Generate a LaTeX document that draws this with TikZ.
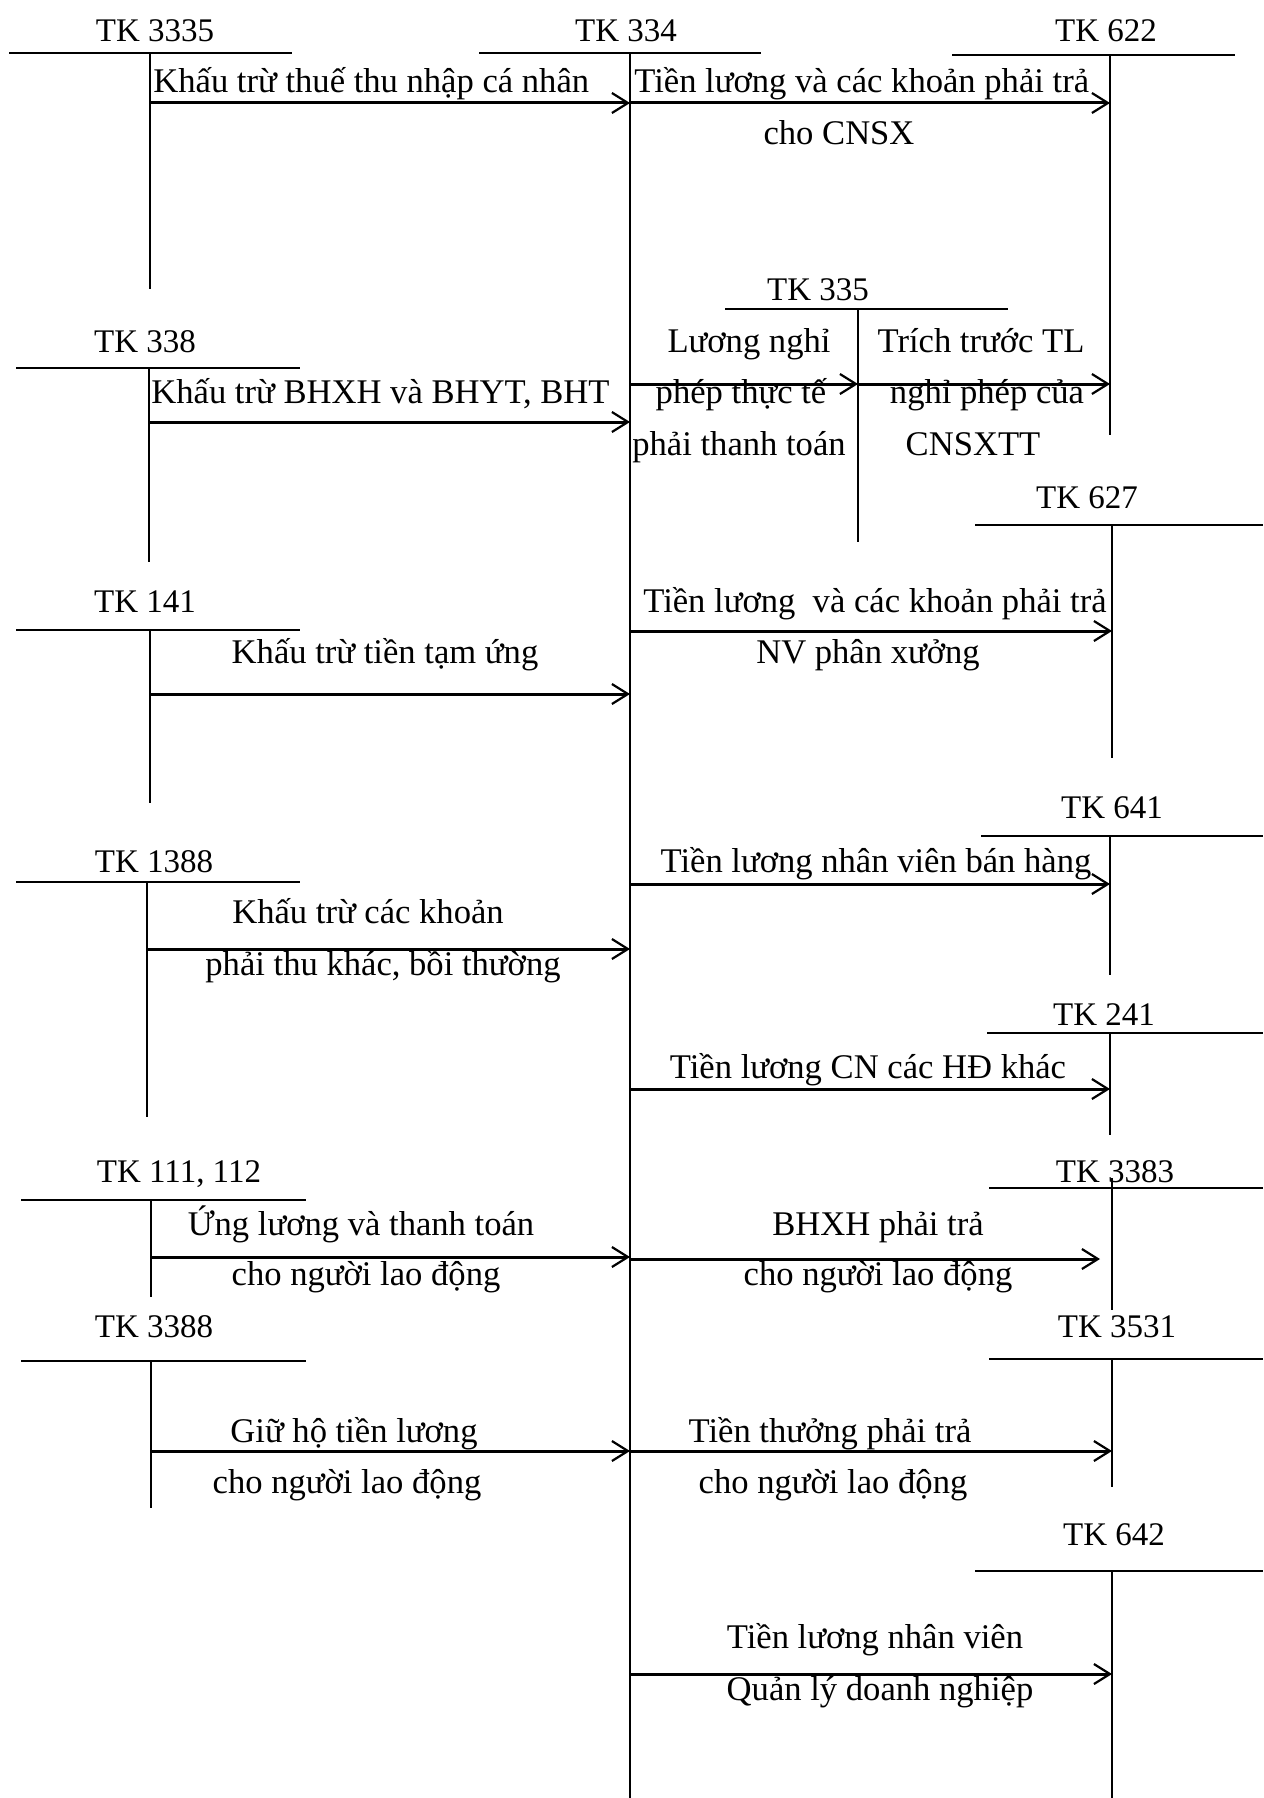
\documentclass[tikz,border=0pt]{standalone}
\usepackage{fontspec}
\setmainfont{Liberation Serif}
\usetikzlibrary{arrows.meta}

\tikzset{
  acct/.style={line width=0.8pt},
  flow/.style={line width=1.5pt,-{Straight Barb[length=8pt,width=10pt,line width=1.1pt]}},
  txt/.style={inner sep=0pt,anchor=base,font=\fontsize{17.3}{21}\selectfont},
  txtl/.style={txt,anchor=base west},
  tk/.style={txt,font=\fontsize{16.5}{20}\selectfont},
}

\begin{document}
\begin{tikzpicture}[x=0.5pt,y=-0.5pt]
  \useasboundingbox (0,0) rectangle (1263,1798);

  % T accounts, left column
  \node[tk] (k3335) at (155,42) {TK 3335};
  \coordinate (t3335) at (150,53);
  \draw[acct] (9,53) -- (292,53);
  \draw[acct] (t3335) -- (150,289);

  \node[tk] (k338) at (145,352) {TK 338};
  \coordinate (t338) at (149,368);
  \draw[acct] (16,368) -- (300,368);
  \draw[acct] (t338) -- (149,562);

  \node[tk] (k141) at (145,612) {TK 141};
  \coordinate (t141) at (150,630);
  \draw[acct] (16,630) -- (300,630);
  \draw[acct] (t141) -- (150,803);

  \node[tk] (k1388) at (154,872) {TK 1388};
  \coordinate (t1388) at (147,882);
  \draw[acct] (16,882) -- (300,882);
  \draw[acct] (t1388) -- (147,1117);

  \node[tk] (k111) at (179,1182) {TK 111, 112};
  \coordinate (t111) at (151,1200);
  \draw[acct] (21,1200) -- (306,1200);
  \draw[acct] (t111) -- (151,1297);

  \node[tk] (k3388) at (154,1337) {TK 3388};
  \coordinate (t3388) at (151,1361);
  \draw[acct] (21,1361) -- (306,1361);
  \draw[acct] (t3388) -- (151,1508);

  % TK 334 and TK 335
  \node[tk] (k334) at (626,42) {TK 334};
  \coordinate (t334) at (630,53);
  \draw[acct] (479,53) -- (761,53);
  \draw[acct] (t334) -- (630,1798);

  \node[tk] (k335) at (818,300) {TK 335};
  \coordinate (t335) at (858,309);
  \draw[acct] (725,309) -- (1008,309);
  \draw[acct] (t335) -- (858,542);

  % T accounts, right column
  \node[tk] (k622) at (1106,42) {TK 622};
  \coordinate (t622) at (1110,55);
  \draw[acct] (952,55) -- (1235,55);
  \draw[acct] (t622) -- (1110,435);

  \node[tk] (k627) at (1087,508) {TK 627};
  \coordinate (t627) at (1112,525);
  \draw[acct] (975,525) -- (1263,525);
  \draw[acct] (t627) -- (1112,758);

  \node[tk] (k641) at (1112,818) {TK 641};
  \coordinate (t641) at (1110,836);
  \draw[acct] (981,836) -- (1263,836);
  \draw[acct] (t641) -- (1110,975);

  \node[tk] (k241) at (1104,1025) {TK 241};
  \coordinate (t241) at (1110,1033);
  \draw[acct] (987,1033) -- (1263,1033);
  \draw[acct] (t241) -- (1110,1135);

  \node[tk] (k3383) at (1115,1182) {TK 3383};
  \coordinate (t3383) at (1112,1188);
  \draw[acct] (989,1188) -- (1263,1188);
  \draw[acct] (1112,1178) -- (1112,1310);

  \node[tk] (k3531) at (1117,1337) {TK 3531};
  \coordinate (t3531) at (1112,1359);
  \draw[acct] (989,1359) -- (1263,1359);
  \draw[acct] (t3531) -- (1112,1487);

  \node[tk] (k642) at (1114,1545) {TK 642};
  \coordinate (t642) at (1112,1571);
  \draw[acct] (975,1571) -- (1263,1571);
  \draw[acct] (t642) -- (1112,1798);

  % entries into TK 334
  \node[txtl] (e1) at (153,93) {Khấu trừ thuế thu nhập cá nhân};
  \draw[flow] (t3335 |- 0,103) -- (t334 |- 0,103);

  \node[txtl] (e2) at (151,403) {Khấu trừ BHXH và BHYT, BHT};
  \draw[flow] (t338 |- 0,422) -- (t334 |- 0,422);

  \node[txt] (e3) at (385,663) {Khấu trừ tiền tạm ứng};
  \draw[flow] (t141 |- 0,694) -- (t334 |- 0,694);

  \node[txt] (e4a) at (368,923) {Khấu trừ các khoản};
  \node[txt] (e4b) at (383,975) {phải thu khác, bồi thường};
  \draw[flow] (t1388 |- 0,949) -- (t334 |- 0,949);

  \node[txt] (e5a) at (361,1235) {Ứng lương và thanh toán};
  \node[txt] (e5b) at (366,1285) {cho người lao động};
  \draw[flow] (t111 |- 0,1257) -- (t334 |- 0,1257);

  \node[txt] (e6a) at (354,1442) {Giữ hộ tiền lương};
  \node[txt] (e6b) at (347,1493) {cho người lao động};
  \draw[flow] (t3388 |- 0,1451) -- (t334 |- 0,1451);

  % entries out of TK 334
  \node[txtl] (c1a) at (634,93) {Tiền lương và các khoản phải trả};
  \node[txt] (c1b) at (839,145) {cho CNSX};
  \draw[flow] (t334 |- 0,103) -- (t622 |- 0,103);

  \node[txt] (c2a) at (749,352) {Lương nghỉ};
  \node[txt] (c2b) at (741,403) {phép thực tế};
  \node[txt] (c2c) at (739,455) {phải thanh toán};
  \draw[flow] (t334 |- 0,384) -- (t335 |- 0,384);

  \node[txt] (c3a) at (981,352) {Trích trước TL};
  \node[txt] (c3b) at (987,403) {nghỉ phép của};
  \node[txt] (c3c) at (973,455) {CNSXTT};
  \draw[flow] (t335 |- 0,384) -- (t622 |- 0,384);

  \node[txt] (c4a) at (875,612) {Tiền lương\ \ và các khoản phải trả};
  \node[txt] (c4b) at (868,663) {NV phân xưởng};
  \draw[flow] (t334 |- 0,631) -- (t627 |- 0,631);

  \node[txt] (c5) at (876,872) {Tiền lương nhân viên bán hàng};
  \draw[flow] (t334 |- 0,884) -- (t641 |- 0,884);

  \node[txt] (c6) at (868,1078) {Tiền lương CN các HĐ khác};
  \draw[flow] (t334 |- 0,1089) -- (t241 |- 0,1089);

  \node[txt] (c7a) at (878,1235) {BHXH phải trả};
  \node[txt] (c7b) at (878,1285) {cho người lao động};
  \draw[flow,shorten >=6pt] (t334 |- 0,1259) -- (t3383 |- 0,1259);

  \node[txt] (c8a) at (830,1442) {Tiền thưởng phải trả};
  \node[txt] (c8b) at (833,1493) {cho người lao động};
  \draw[flow] (t334 |- 0,1451) -- (t3531 |- 0,1451);

  \node[txt] (c9a) at (875,1648) {Tiền lương nhân viên};
  \node[txt] (c9b) at (880,1700) {Quản lý doanh nghiệp};
  \draw[flow] (t334 |- 0,1674) -- (t642 |- 0,1674);
\end{tikzpicture}
\end{document}
